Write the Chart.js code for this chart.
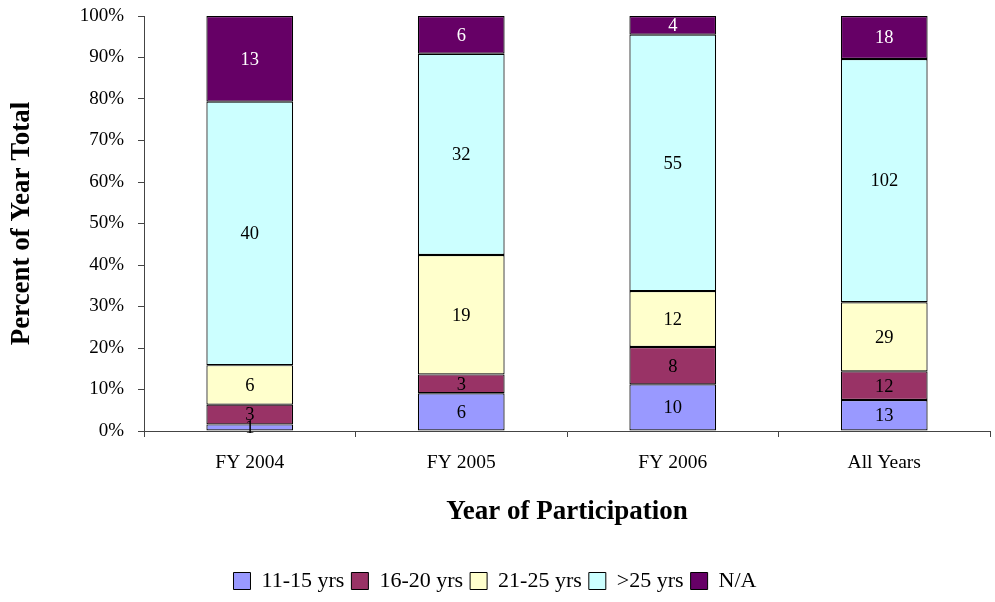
<!DOCTYPE html>
<html>
<head>
<meta charset="utf-8">
<script src="https://cdn.jsdelivr.net/npm/chart.js@4"></script>
<style>
  html, body { margin: 0; padding: 0; background: #fff; }
  #wrap { width: 995px; height: 602px; }
</style>
</head>
<body>
<div id="wrap"><canvas id="ageChart"></canvas></div>
<script>
// counts shown inside each segment; bars are drawn as share of the year total
const categories = ["FY 2004", "FY 2005", "FY 2006", "All Years"];
const ageGroups = ["11-15 yrs", "16-20 yrs", "21-25 yrs", ">25 yrs", "N/A"];
const age11to15 = [1, 6, 10, 13];
const age16to20 = [3, 3, 8, 12];
const age21to25 = [6, 19, 12, 29];
const ageOver25 = [40, 32, 55, 102];
const ageNA = [13, 6, 4, 18];
const yTicks = [0, 10, 20, 30, 40, 50, 60, 70, 80, 90, 100];

const counts = [age11to15, age16to20, age21to25, ageOver25, ageNA];
const fills = ["#9999FF", "#993366", "#FFFFCC", "#CCFFFF", "#660066"];
const labelColors = ["#000", "#000", "#000", "#000", "#fff"];
const serif = "'Liberation Serif', 'Times New Roman', serif";

const totals = categories.map((c, i) => counts.reduce((s, arr) => s + arr[i], 0));

const datasets = counts.map((arr, k) => ({
  label: ageGroups[k],
  data: arr.map((v, i) => (v / totals[i]) * 100),
  rawCounts: arr,
  backgroundColor: fills[k],
  borderColor: "#000",
  borderWidth: 1.2,
  borderSkipped: false,
  categoryPercentage: 1,
  barPercentage: 0.41,
}));

// draw the count in the middle of each segment
const segmentLabels = {
  id: "segmentLabels",
  afterDatasetsDraw(chart) {
    const ctx = chart.ctx;
    ctx.save();
    ctx.font = "18.5px " + serif;
    ctx.textAlign = "center";
    ctx.textBaseline = "middle";
    chart.data.datasets.forEach((ds, k) => {
      const meta = chart.getDatasetMeta(k);
      meta.data.forEach((bar, i) => {
        ctx.fillStyle = labelColors[k];
        ctx.fillText(String(ds.rawCounts[i]), bar.x, (bar.y + bar.base) / 2 + 1);
      });
    });
    ctx.restore();
  },
};

new Chart(document.getElementById("ageChart"), {
  type: "bar",
  data: { labels: categories, datasets: datasets },
  plugins: [segmentLabels],
  options: {
    responsive: true,
    maintainAspectRatio: false,
    animation: false,
    layout: { padding: { top: 16, right: 5, left: 0, bottom: 0 } },
    plugins: {
      tooltip: { enabled: false },
      legend: {
        position: "bottom",
        labels: {
          color: "#000",
          font: { family: serif, size: 22 },
          boxWidth: 17,
          boxHeight: 17,
          padding: 7,
          useBorderRadius: false,
          generateLabels: (chart) =>
            chart.data.datasets.map((ds, k) => ({
              text: ds.label,
              fillStyle: fills[k],
              strokeStyle: "#000",
              lineWidth: 1,
              fontColor: "#000",
              datasetIndex: k,
            })),
        },
      },
    },
    scales: {
      x: {
        stacked: true,
        offset: true,
        grid: {
          offset: true,
          drawOnChartArea: false,
          drawTicks: true,
          tickLength: 6,
          color: "#444",
        },
        border: { color: "#444", width: 1 },
        ticks: {
          color: "#000",
          font: { family: serif, size: 19.5 },
          padding: 14,
        },
        title: {
          display: true,
          text: "Year of Participation",
          color: "#000",
          font: { family: serif, size: 27, weight: "bold" },
          padding: { top: 10, bottom: 35 },
        },
        afterFit: (scale) => { scale.height = 132; },
      },
      y: {
        stacked: true,
        min: 0,
        max: 100,
        afterBuildTicks: (scale) => { scale.ticks = yTicks.map((v) => ({ value: v })); },
        grid: {
          drawOnChartArea: false,
          drawTicks: true,
          tickLength: 6,
          color: "#444",
        },
        border: { color: "#444", width: 1 },
        ticks: {
          color: "#000",
          font: { family: serif, size: 19 },
          padding: 14,
          callback: (v) => v + "%",
        },
        title: {
          display: true,
          text: "Percent of Year Total",
          color: "#000",
          font: { family: serif, size: 27, weight: "bold" },
          padding: { top: 6, bottom: 10 },
        },
        afterFit: (scale) => {
          scale.width = 144;
          scale.paddingTop = 0;
          scale.paddingBottom = 0;
        },
      },
    },
  },
});
</script>
</body>
</html>
